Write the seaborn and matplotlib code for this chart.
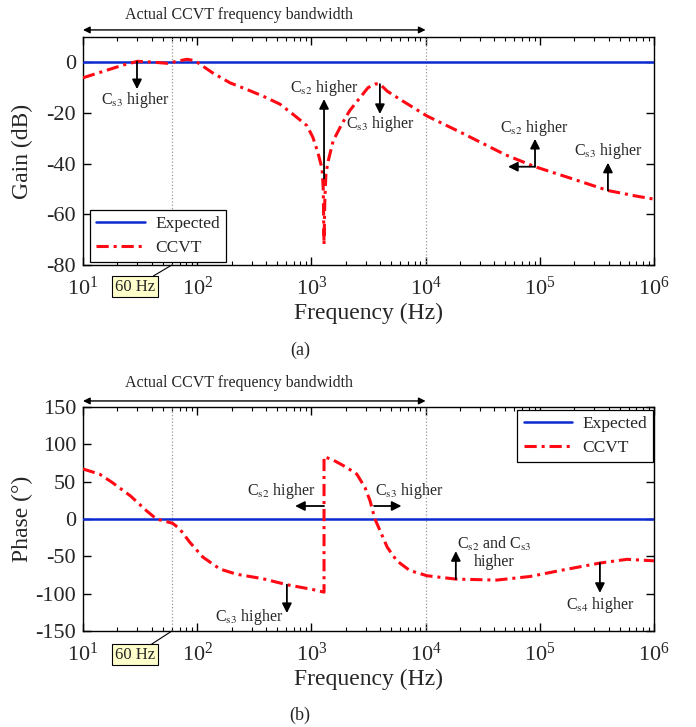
import matplotlib
matplotlib.use('Agg')
import matplotlib.pyplot as plt
import pandas as pd
import seaborn as sns

# Gain of the CCVT (Hz, dB)
gain_freq = [10, 17, 22, 30, 40, 55, 65, 81, 92, 100, 137, 194, 272, 375, 530, 690,
             915, 1030, 1140, 1240, 1270, 1290, 1310, 1340, 1406, 1550, 1850, 2170,
             2660, 3130, 3660, 3980, 4620, 5960, 10300, 20000, 50000, 90800, 200000,
             395000, 700000, 1000000]
gain_db = [-6.1, -2.8, -1.2, 0.4, 0.1, -0.4, 0.3, 1.2, 0.8, 0.0, -4.2, -8.1, -10.7, -13.3,
           -16.5, -20.5, -25.0, -29.6, -35.6, -42.0, -50.0, -72.0, -55.0, -44.0, -38.8,
           -31.0, -24.3, -19.0, -14.0, -10.0, -8.5, -8.6, -11.4, -14.6, -21.2, -27.5,
           -36.5, -41.2, -46.2, -50.6, -52.8, -54.0]

# Phase of the CCVT (Hz, degrees)
phase_freq = [10, 14, 18, 26, 36, 44, 54, 61, 70, 86, 112, 158, 222, 376, 610, 1040,
              1290, 1290, 1550, 2040, 2500, 2950, 3260, 3600, 3990, 4620, 5600, 7270,
              10300, 18400, 42000, 82000, 163000, 336000, 580000, 1000000]
phase_deg = [67, 60, 49, 31, 11, 0, -3.6, -5.8, -13, -31, -51, -67, -74, -80, -88, -94.6,
             -98, 83.5, 79, 69, 60, 42, 24.5, 0, -15.6, -38, -56, -69, -76, -80.5, -81.8,
             -77, -68, -59, -54, -56]

expected_freq = [10, 1000000]
expected_val = [0, 0]

band_lo, band_hi = 10, 10000
f_60 = 60

BLUE = '#0a2ad0'
RED = '#ff0a14'
DASH = (0, (4, 1.6, 1, 1.6))

sns.set_style('ticks')
plt.rcParams['font.family'] = ['Liberation Serif', 'DejaVu Serif']
plt.rcParams['mathtext.fontset'] = 'stix'
plt.rcParams['axes.unicode_minus'] = False

fig = plt.figure(figsize=(6.96, 7.27), dpi=100)
W, H = 696, 727


def px_axes(x0, y0, x1, y1):
    return fig.add_axes([x0 / W, 1 - y1 / H, (x1 - x0) / W, (y1 - y0) / H])


ax1 = px_axes(83, 37, 654, 265)
ax2 = px_axes(83, 407, 654, 631)

gain_df = pd.DataFrame({'f': gain_freq, 'v': gain_db})
phase_df = pd.DataFrame({'f': phase_freq, 'v': phase_deg})
exp_df = pd.DataFrame({'f': expected_freq, 'v': expected_val})

arrow_kw = dict(arrowstyle='-|>', color='k', lw=1.3, mutation_scale=14,
                shrinkA=0, shrinkB=0)


def arrow(ax, start, end):
    ax.annotate('', xy=end, xytext=start, arrowprops=arrow_kw, zorder=5)


def note(ax, x, y, s, **kw):
    ax.text(x, y, s, ha='center', va='center', fontsize=11.5, zorder=6, **kw)


for ax, df, box_y, band_y, band_txt_y in [(ax1, gain_df, -0.096, 1.031, 1.096),
                                          (ax2, phase_df, -0.107, 1.027, 1.107)]:
    sns.lineplot(data=exp_df, x='f', y='v', ax=ax, color=BLUE, lw=1.8,
                 label='Expected', estimator=None, sort=False, zorder=3)
    sns.lineplot(data=df, x='f', y='v', ax=ax, color=RED, lw=2.2, linestyle=DASH,
                 label='CCVT', estimator=None, sort=False, zorder=4)
    ax.set_xscale('log')
    ax.set_xlim(10, 1e6)
    ax.axvline(f_60, color='0.6', ls=':', lw=0.9, zorder=1)
    ax.axvline(band_hi, color='0.6', ls=':', lw=0.9, zorder=1)
    ax.tick_params(which='both', direction='in', top=True, right=True, labelsize=16,
                   color='k')
    ax.tick_params(which='major', length=6, width=1)
    ax.tick_params(which='minor', length=3, width=0.8)
    ax.tick_params(axis='x', pad=8)
    ax.tick_params(axis='y', pad=5)
    for sp in ax.spines.values():
        sp.set_color('k')
        sp.set_linewidth(1)
    ax.set_xlabel('Frequency (Hz)', fontsize=17)
    ax.xaxis.set_label_coords(0.5, -0.168)
    ax.yaxis.set_label_coords(-0.088, 0.5)

    # bandwidth arrow above the axes
    ax.annotate('', xy=(band_lo, band_y), xytext=(band_hi, band_y),
                xycoords=('data', 'axes fraction'),
                arrowprops=dict(arrowstyle='<|-|>', color='k', lw=1, mutation_scale=10,
                                shrinkA=0, shrinkB=0), annotation_clip=False)
    ax.text(232, band_txt_y, 'Actual CCVT frequency bandwidth', fontsize=11.5,
            ha='center', va='center', transform=ax.get_xaxis_transform())

    # 60 Hz tag
    ax.annotate('60 Hz', xy=(f_60, 0), xycoords=('data', 'axes fraction'),
                xytext=(0.091, box_y), textcoords='axes fraction',
                ha='center', va='center', fontsize=12,
                bbox=dict(boxstyle='square,pad=0.15', fc='#ffffcc', ec='k', lw=0.8),
                arrowprops=dict(arrowstyle='-', color='k', lw=0.8, shrinkA=0, shrinkB=0),
                annotation_clip=False)

# top panel
ax1.set_ylim(-80, 10)
ax1.set_yticks([-80, -60, -40, -20, 0])
ax1.set_ylabel('Gain (dB)', fontsize=17)
leg = ax1.legend(loc='lower left', bbox_to_anchor=(0.012, 0.013), borderaxespad=0,
                 fontsize=12.5, frameon=True, fancybox=False, framealpha=1,
                 edgecolor='k', handlelength=2.8, handletextpad=0.6, borderpad=0.35,
                 labelspacing=0.45)
leg.get_frame().set_linewidth(0.9)

arrow(ax1, (29.7, 0.3), (29.7, -10.6))
note(ax1, 28.5, -14.9, r'C$_{\mathrm{s3}}$ higher')
arrow(ax1, (1290, -45.9), (1290, -14.5))
note(ax1, 1290, -10.0, r'C$_{\mathrm{s2}}$ higher')
arrow(ax1, (3980, -8.6), (3980, -20.4))
note(ax1, 3980, -24.3, r'C$_{\mathrm{s3}}$ higher')
arrow(ax1, (90800, -41.2), (90800, -30.2))
arrow(ax1, (90800, -41.2), (52700, -41.2))
note(ax1, 90000, -25.9, r'C$_{\mathrm{s2}}$ higher')
arrow(ax1, (395000, -50.6), (395000, -39.6))
note(ax1, 395000, -34.9, r'C$_{\mathrm{s3}}$ higher')

# bottom panel
ax2.set_ylim(-150, 150)
ax2.set_yticks([-150, -100, -50, 0, 50, 100, 150])
ax2.set_ylabel('Phase (°)', fontsize=17)
leg = ax2.legend(loc='upper right', bbox_to_anchor=(0.999, 0.987), borderaxespad=0,
                 fontsize=12.5, frameon=True, fancybox=False, framealpha=1,
                 edgecolor='k', handlelength=2.8, handletextpad=0.6, borderpad=0.35,
                 labelspacing=0.45)
leg.get_frame().set_linewidth(0.9)

note(ax2, 547, 37.5, r'C$_{\mathrm{s2}}$ higher')
arrow(ax2, (1290, 17.4), (720, 17.4))
note(ax2, 7160, 37.5, r'C$_{\mathrm{s3}}$ higher')
arrow(ax2, (3540, 17.4), (6150, 17.4))
arrow(ax2, (610, -88), (610, -126))
note(ax2, 284, -131, r'C$_{\mathrm{s3}}$ higher')
arrow(ax2, (18400, -80.5), (18400, -43))
ax2.text(40000, -45, 'C$_{\\mathrm{s2}}$ and C$_{\\mathrm{s3}}$\nhigher', ha='center',
         va='center', fontsize=11.5, linespacing=1.1, zorder=6)
arrow(ax2, (336000, -59), (336000, -99))
note(ax2, 336000, -115, r'C$_{\mathrm{s4}}$ higher')

fig.text(300 / W, 1 - 350 / H, '(a)', ha='center', va='center', fontsize=13)
fig.text(300 / W, 1 - 715 / H, '(b)', ha='center', va='center', fontsize=13)

fig.savefig('out.png', dpi=100)
